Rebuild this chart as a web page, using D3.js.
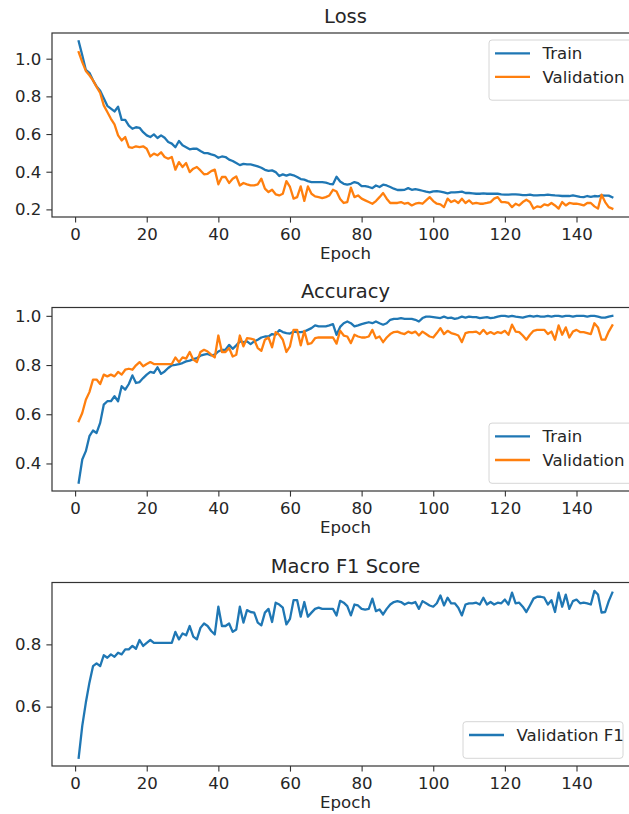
<!DOCTYPE html>
<html>
<head>
<meta charset="utf-8">
<script src="https://cdn.jsdelivr.net/npm/d3@7/dist/d3.min.js"></script>
<style>
  body { margin: 0; background: #fff; }
  svg { display: block; font-family: 'DejaVu Sans', sans-serif; }
</style>
</head>
<body>
<div class="svg-container"></div>
<script>
const epochs = d3.range(1, 151)

const trainLoss = [
  1.092, 1.018, 0.94, 0.925, 0.885, 0.853, 0.83, 0.79, 0.75, 0.735,
  0.72, 0.745, 0.675, 0.675, 0.645, 0.628, 0.636, 0.633, 0.61, 0.593,
  0.584, 0.598, 0.579, 0.593, 0.58, 0.558, 0.549, 0.53, 0.563, 0.54,
  0.53, 0.519, 0.522, 0.522, 0.51, 0.499, 0.499, 0.492, 0.487, 0.474,
  0.481, 0.478, 0.464, 0.457, 0.446, 0.435, 0.442, 0.439, 0.439, 0.434,
  0.428, 0.421, 0.41, 0.404, 0.407, 0.398, 0.377, 0.386, 0.379, 0.386,
  0.381, 0.372, 0.361, 0.358, 0.35, 0.345, 0.345, 0.345, 0.345, 0.342,
  0.336, 0.333, 0.373, 0.348, 0.336, 0.331, 0.336, 0.345, 0.34, 0.324,
  0.324, 0.319, 0.313, 0.327, 0.319, 0.331, 0.327, 0.319, 0.31, 0.303,
  0.303, 0.304, 0.313, 0.304, 0.308, 0.304, 0.299, 0.294, 0.29, 0.296,
  0.297, 0.294, 0.29, 0.285, 0.29, 0.29, 0.292, 0.294, 0.287, 0.287,
  0.285, 0.283, 0.283, 0.285, 0.283, 0.283, 0.283, 0.283, 0.28, 0.278,
  0.278, 0.28, 0.28, 0.278, 0.276, 0.276, 0.278, 0.274, 0.274, 0.276,
  0.276, 0.278, 0.276, 0.274, 0.273, 0.271, 0.271, 0.271, 0.274, 0.271,
  0.267, 0.265, 0.271, 0.267, 0.271, 0.269, 0.274, 0.273, 0.273, 0.264
]

const valLoss = [
  1.035, 0.982, 0.935, 0.912, 0.885, 0.85, 0.818, 0.752, 0.717, 0.681,
  0.651, 0.593, 0.566, 0.584, 0.531, 0.527, 0.535, 0.531, 0.535, 0.522,
  0.481, 0.496, 0.487, 0.503, 0.478, 0.469, 0.478, 0.411, 0.451, 0.425,
  0.446, 0.398, 0.416, 0.425, 0.407, 0.386, 0.389, 0.403, 0.411, 0.333,
  0.372, 0.372, 0.34, 0.363, 0.375, 0.327, 0.34, 0.333, 0.327, 0.327,
  0.333, 0.363, 0.31, 0.292, 0.304, 0.28, 0.274, 0.283, 0.35, 0.319,
  0.257, 0.265, 0.322, 0.245, 0.322, 0.283, 0.269, 0.265, 0.26, 0.265,
  0.274, 0.304, 0.295, 0.255, 0.234, 0.239, 0.315, 0.265, 0.274, 0.257,
  0.248, 0.239, 0.23, 0.244, 0.265, 0.287, 0.257, 0.234, 0.234, 0.234,
  0.239, 0.23, 0.234, 0.221, 0.23, 0.234, 0.23, 0.248, 0.265, 0.244,
  0.23, 0.227, 0.212, 0.257, 0.239, 0.248, 0.234, 0.257, 0.234, 0.248,
  0.23, 0.234, 0.23, 0.23, 0.234, 0.239, 0.257, 0.265, 0.239, 0.239,
  0.234, 0.212, 0.23, 0.221, 0.239, 0.251, 0.239, 0.204, 0.216, 0.212,
  0.227, 0.221, 0.234, 0.221, 0.204, 0.239, 0.221, 0.234, 0.23, 0.23,
  0.227, 0.221, 0.234, 0.234, 0.216, 0.204, 0.278, 0.239, 0.212, 0.204
]

const trainAcc = [
  0.322, 0.416, 0.45, 0.511, 0.534, 0.524, 0.565, 0.639, 0.653, 0.653,
  0.673, 0.653, 0.714, 0.7, 0.723, 0.758, 0.727, 0.731, 0.747, 0.761,
  0.772, 0.768, 0.791, 0.764, 0.774, 0.788, 0.799, 0.801, 0.804, 0.808,
  0.815, 0.818, 0.824, 0.828, 0.838, 0.842, 0.845, 0.839, 0.842, 0.855,
  0.862, 0.862, 0.882, 0.866, 0.88, 0.896, 0.893, 0.896, 0.885, 0.896,
  0.903, 0.912, 0.916, 0.916, 0.926, 0.923, 0.942, 0.934, 0.93, 0.928,
  0.936, 0.934, 0.934, 0.936, 0.943, 0.95, 0.961, 0.957, 0.957, 0.957,
  0.961, 0.966, 0.923, 0.955, 0.97, 0.977, 0.97, 0.957, 0.961, 0.966,
  0.97, 0.974, 0.97, 0.977, 0.97, 0.964, 0.97, 0.984, 0.988, 0.988,
  0.991, 0.988, 0.988, 0.988, 0.984, 0.977, 0.991, 0.997, 0.997, 0.995,
  0.993, 0.991, 0.997, 0.991, 0.993, 0.988, 0.991, 0.997, 0.993, 0.997,
  0.995, 0.995, 0.991, 0.993, 0.995, 0.991, 0.993, 0.997, 1.0, 1.0,
  0.997, 1.0, 0.997, 0.995, 0.993, 0.997, 1.0, 0.997, 1.0, 0.997,
  0.997, 1.0, 0.997, 1.0, 1.0, 0.997, 1.0, 1.0, 0.997, 1.0,
  1.0, 1.0, 0.997, 1.0, 1.0, 0.997, 0.993, 0.993, 0.997, 1.0
]

const valAcc = [
  0.572, 0.605, 0.659, 0.69, 0.741, 0.741, 0.723, 0.761, 0.754, 0.761,
  0.754, 0.772, 0.761, 0.781, 0.785, 0.781, 0.799, 0.812, 0.795, 0.804,
  0.812, 0.804, 0.804, 0.804, 0.804, 0.804, 0.804, 0.831, 0.812, 0.831,
  0.826, 0.853, 0.822, 0.812, 0.853, 0.862, 0.855, 0.842, 0.831, 0.92,
  0.853, 0.853, 0.869, 0.835, 0.842, 0.92, 0.876, 0.909, 0.907, 0.903,
  0.869, 0.858, 0.903, 0.912, 0.872, 0.934, 0.923, 0.903, 0.853, 0.876,
  0.943, 0.943, 0.88, 0.939, 0.885, 0.889, 0.909, 0.912, 0.912, 0.912,
  0.912, 0.912, 0.887, 0.94, 0.92, 0.916, 0.889, 0.923, 0.916, 0.912,
  0.912, 0.916, 0.943, 0.909, 0.916, 0.893, 0.912, 0.926, 0.934, 0.936,
  0.93, 0.926, 0.936, 0.93, 0.936, 0.92, 0.936, 0.926, 0.916, 0.912,
  0.93, 0.95, 0.926, 0.939, 0.93, 0.926, 0.92, 0.893, 0.93, 0.934,
  0.934, 0.936, 0.926, 0.943, 0.926, 0.934, 0.926, 0.934, 0.93, 0.939,
  0.923, 0.964, 0.936, 0.934, 0.92, 0.903, 0.923, 0.939, 0.943, 0.943,
  0.943, 0.926, 0.936, 0.903, 0.961, 0.923, 0.953, 0.912, 0.936, 0.943,
  0.934, 0.934, 0.93, 0.926, 0.97, 0.953, 0.903, 0.903, 0.936, 0.961
]

const valF1 = [
  0.436, 0.538, 0.613, 0.677, 0.73, 0.739, 0.73, 0.765, 0.757, 0.768,
  0.76, 0.773, 0.768, 0.784, 0.784, 0.795, 0.786, 0.814, 0.795, 0.805,
  0.814, 0.805, 0.805, 0.805, 0.805, 0.805, 0.805, 0.84, 0.816, 0.835,
  0.829, 0.859, 0.825, 0.816, 0.853, 0.867, 0.859, 0.843, 0.832, 0.921,
  0.859, 0.859, 0.867, 0.84, 0.848, 0.921, 0.87, 0.91, 0.904, 0.902,
  0.87, 0.861, 0.902, 0.914, 0.872, 0.934, 0.928, 0.918, 0.864, 0.882,
  0.942, 0.942, 0.889, 0.936, 0.889, 0.902, 0.914, 0.918, 0.914, 0.914,
  0.914, 0.914, 0.893, 0.94, 0.934, 0.923, 0.893, 0.928, 0.925, 0.914,
  0.912, 0.914, 0.947, 0.907, 0.912, 0.896, 0.914, 0.928, 0.936, 0.939,
  0.936, 0.928, 0.934, 0.932, 0.936, 0.914, 0.939, 0.932, 0.925, 0.921,
  0.932, 0.957, 0.925, 0.95, 0.932, 0.932, 0.918, 0.893, 0.928, 0.932,
  0.932, 0.934, 0.928, 0.95, 0.928, 0.936, 0.928, 0.934, 0.932, 0.944,
  0.928, 0.966, 0.932, 0.934, 0.921, 0.904, 0.925, 0.947, 0.953, 0.953,
  0.95, 0.928, 0.942, 0.904, 0.966, 0.921, 0.96, 0.914, 0.939, 0.944,
  0.932, 0.934, 0.932, 0.928, 0.972, 0.96, 0.902, 0.904, 0.939, 0.966
]

const xTicks = [0, 20, 40, 60, 80, 100, 120, 140]
const lossTicks = [0.2, 0.4, 0.6, 0.8, 1.0]
const accTicks = [0.4, 0.6, 0.8, 1.0]
const f1Ticks = [0.6, 0.8]

const width = 629
const height = 814
const left = 52
const right = 639
const blue = '#1f77b4'
const orange = '#ff7f0e'
const ink = '#262626'

const panels = [
  {
    title: 'Loss', top: 33, bottom: 217, yTicks: lossTicks,
    series: [
      { name: 'Train', values: trainLoss, color: blue },
      { name: 'Validation', values: valLoss, color: orange }
    ],
    legend: { x: 489, top: 40 }
  },
  {
    title: 'Accuracy', top: 307.5, bottom: 491, yTicks: accTicks,
    series: [
      { name: 'Train', values: trainAcc, color: blue },
      { name: 'Validation', values: valAcc, color: orange }
    ],
    legend: { x: 489, bottomGap: 7.7 }
  },
  {
    title: 'Macro F1 Score', top: 582.5, bottom: 766, yTicks: f1Ticks,
    series: [
      { name: 'Validation F1', values: valF1, color: blue }
    ],
    legend: { x: 463, bottomGap: 7.7 }
  }
]

const svg = d3
  .select('.svg-container')
  .append('svg')
  .attr('width', width)
  .attr('height', height)

const xScale = d3
  .scaleLinear()
  .domain([1 - 149 * 0.05, 150 + 149 * 0.05])
  .range([left, right])

for (const panel of panels) {
  const all = panel.series.flatMap((s) => s.values)
  const [lo, hi] = d3.extent(all)
  const pad = (hi - lo) * 0.05
  const yScale = d3
    .scaleLinear()
    .domain([lo - pad, hi + pad])
    .range([panel.bottom, panel.top])

  const g = svg.append('g')

  const xAxis = d3
    .axisBottom(xScale)
    .tickValues(xTicks)
    .tickSize(5.6)
    .tickPadding(6)
    .tickSizeOuter(0)
  const yAxis = d3
    .axisLeft(yScale)
    .tickValues(panel.yTicks)
    .tickFormat(d3.format('.1f'))
    .tickSize(5.6)
    .tickPadding(5)
    .tickSizeOuter(0)

  const gx = g
    .append('g')
    .attr('transform', 'translate(0,' + panel.bottom + ')')
    .call(xAxis)
  const gy = g
    .append('g')
    .attr('transform', 'translate(' + left + ',0)')
    .call(yAxis)

  for (const ax of [gx, gy]) {
    ax.select('.domain').remove()
    ax.selectAll('line').attr('stroke', '#333').attr('stroke-width', 1.1)
    ax.selectAll('text')
      .attr('fill', ink)
      .style('font-size', '16.6px')
      .style('font-family', "'DejaVu Sans', sans-serif")
  }

  const line = d3
    .line()
    .x((d, i) => xScale(epochs[i]))
    .y((d) => yScale(d))

  for (const s of panel.series) {
    g.append('path')
      .datum(s.values)
      .attr('d', line)
      .attr('fill', 'none')
      .attr('stroke', s.color)
      .attr('stroke-width', 2.3)
      .attr('stroke-linejoin', 'round')
      .attr('stroke-linecap', 'square')
  }

  g.append('rect')
    .attr('x', left)
    .attr('y', panel.top)
    .attr('width', right - left)
    .attr('height', panel.bottom - panel.top)
    .attr('fill', 'none')
    .attr('stroke', '#333')
    .attr('stroke-width', 1.2)

  g.append('text')
    .attr('x', (left + right) / 2)
    .attr('y', panel.top - 10)
    .attr('text-anchor', 'middle')
    .attr('fill', ink)
    .style('font-size', '19.5px')
    .text(panel.title)

  g.append('text')
    .attr('x', (left + right) / 2)
    .attr('y', panel.bottom + 42)
    .attr('text-anchor', 'middle')
    .attr('fill', ink)
    .style('font-size', '16.6px')
    .text('Epoch')

  // legend
  const rowH = 23.6
  const boxH = 9 + rowH * panel.series.length + 4
  const boxTop = panel.legend.top !== undefined
    ? panel.legend.top
    : panel.bottom - panel.legend.bottomGap - boxH
  const lg = g.append('g')
  lg.append('rect')
    .attr('x', panel.legend.x)
    .attr('y', boxTop)
    .attr('width', 160)
    .attr('height', boxH)
    .attr('rx', 3)
    .attr('fill', 'white')
    .attr('fill-opacity', 0.8)
    .attr('stroke', '#d6d6d6')
    .attr('stroke-width', 1)

  panel.series.forEach((s, i) => {
    const cy = boxTop + 13.3 + i * rowH
    lg.append('line')
      .attr('x1', panel.legend.x + 6)
      .attr('x2', panel.legend.x + 41)
      .attr('y1', cy)
      .attr('y2', cy)
      .attr('stroke', s.color)
      .attr('stroke-width', 2.3)
    lg.append('text')
      .attr('x', panel.legend.x + 53.5)
      .attr('y', cy)
      .attr('dy', '0.36em')
      .attr('fill', ink)
      .style('font-size', '16.6px')
      .text(s.name)
  })
}
</script>
</body>
</html>
